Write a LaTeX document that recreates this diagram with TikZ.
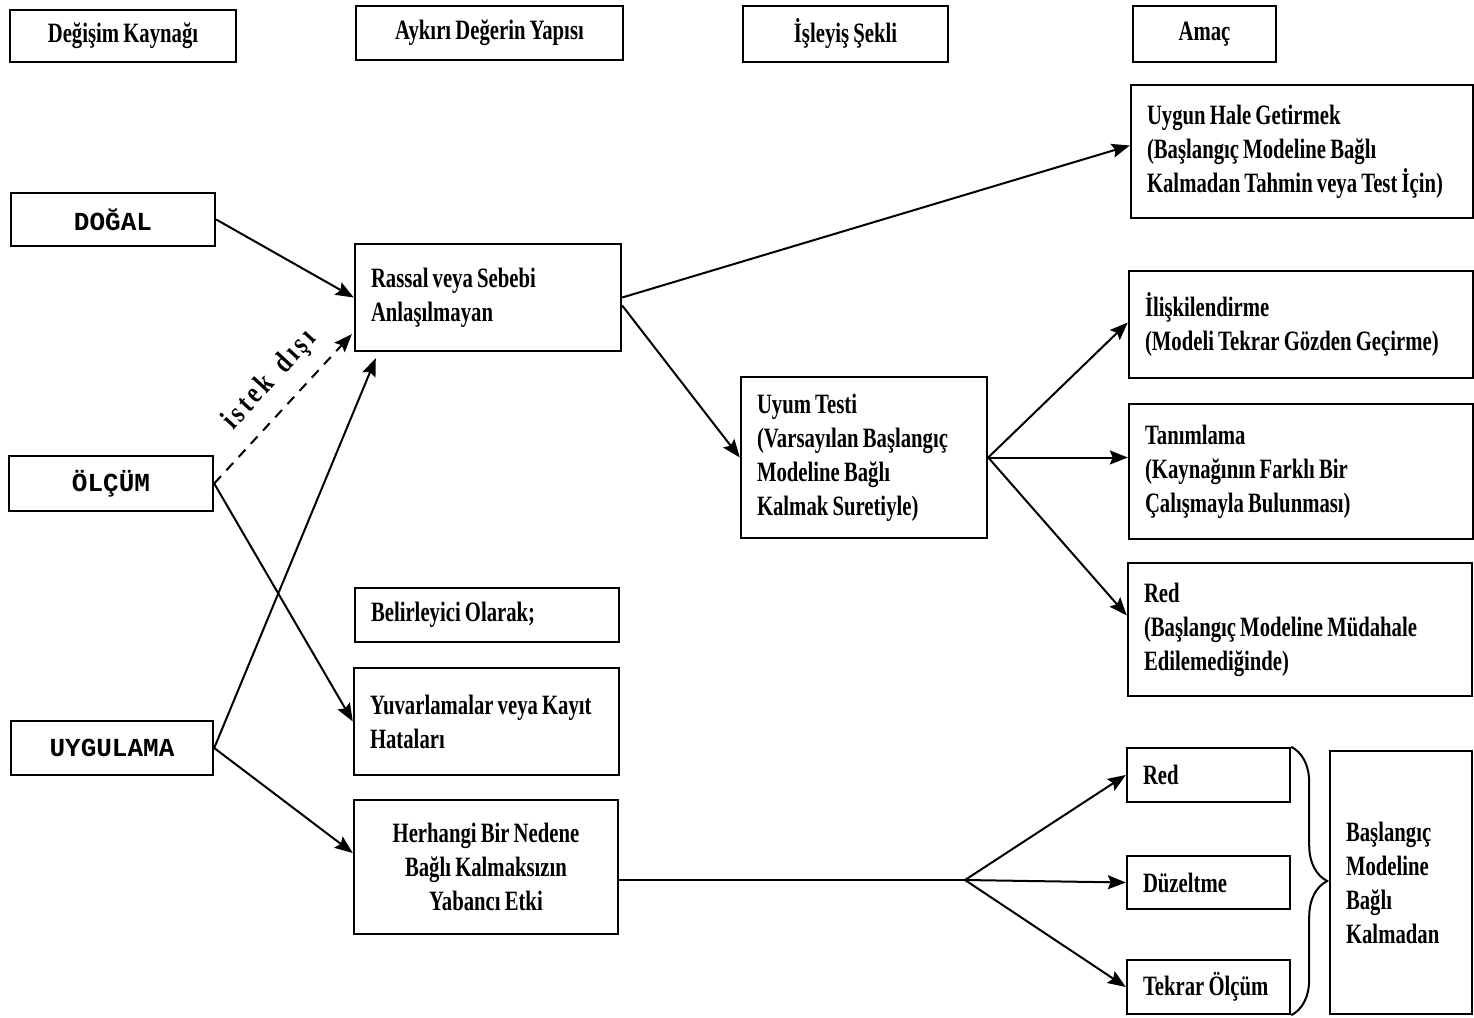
\documentclass[tikz,border=0pt]{standalone}
\usepackage{fontspec}
\setmainfont{Liberation Serif}[FakeStretch=0.74,WordSpace=0.8]
\newfontfamily\monof{Liberation Mono}
\newfontfamily\lblfont{Liberation Serif}[FakeStretch=0.8,LetterSpace=12,WordSpace=1.5]
\usetikzlibrary{arrows.meta,decorations.pathreplacing}
\begin{document}
\begin{tikzpicture}[x=0.5pt,y=-0.5pt,
  box/.style={draw, line width=1.2pt, inner xsep=8pt, inner ysep=2pt,
    font=\bfseries\fontsize{14}{17}\selectfont, align=flush left},
  head/.style={box, align=flush center},
  src/.style={draw, line width=1.2pt, font=\monof\bfseries\fontsize{13}{15}\selectfont},
  conn/.style={line width=1pt, -{Stealth[length=9pt,width=7pt,inset=1.5pt]}},
  lbl/.style={font=\lblfont\bfseries\fontsize{15}{17}\selectfont}]
\useasboundingbox (0,0) rectangle (1474,1018);

% headers
\node[head, minimum width=113pt, minimum height=26pt] (h1) at (123,36) {Değişim Kaynağı};
\node[head, minimum width=133.5pt, minimum height=27pt] (h2) at (489.5,33) {Aykırı Değerin Yapısı};
\node[head, minimum width=102.5pt, minimum height=28pt] (h3) at (845.5,34) {İşleyiş Şekli};
\node[head, minimum width=71.5pt, minimum height=28pt] (h4) at (1204.5,34) {Amaç};

% sources
\node[src, minimum width=102pt, minimum height=26.5pt] (dogal) at (113,219.5) {DOĞAL};
\node[src, minimum width=102pt, minimum height=27.5pt] (olcum) at (111,483.5) {ÖLÇÜM};
\node[src, minimum width=101pt, minimum height=27pt] (uyg) at (112,748) {UYGULAMA};

% middle column
\node[box, text width=117pt, minimum height=53.5pt] (rassal) at (488,297.5) {Rassal veya Sebebi\\Anlaşılmayan};
\node[box, text width=116pt, minimum height=27pt] (belir) at (487,615) {Belirleyici Olarak;};
\node[box, text width=116.5pt, minimum height=53.5pt] (yuvar) at (486.5,721.5) {Yuvarlamalar veya Kayıt\\Hataları};
\node[box, text width=116pt, minimum height=67pt, align=flush center] (herh) at (486,867) {Herhangi Bir Nedene\\Bağlı Kalmaksızın\\Yabancı Etki};

% process
\node[box, text width=107pt, minimum height=80.5pt] (uyum) at (864,457.5) {Uyum Testi\\(Varsayılan Başlangıç\\Modeline Bağlı\\Kalmak Suretiyle)};

% right column
\node[box, text width=155pt, minimum height=66.5pt] (uygun) at (1302,151.5) {Uygun Hale Getirmek\\(Başlangıç Modeline Bağlı\\Kalmadan Tahmin veya Test İçin)};
\node[box, text width=156pt, minimum height=53.5pt] (ilis) at (1301,324.5) {İlişkilendirme\\(Modeli Tekrar Gözden Geçirme)};
\node[box, text width=156pt, minimum height=67.5pt] (tanim) at (1301,471.5) {Tanımlama\\(Kaynağının Farklı Bir\\Çalışmayla Bulunması)};
\node[box, text width=156pt, minimum height=66.5pt] (red1) at (1300,629.5) {Red\\(Başlangıç Modeline Müdahale\\Edilemediğinde)};

\node[box, text width=65.5pt, minimum height=27pt] (red2) at (1208.5,775) {Red};
\node[box, text width=65.5pt, minimum height=26.5pt] (duz) at (1208.5,882.5) {Düzeltme};
\node[box, text width=65.5pt, minimum height=27pt] (tekrar) at (1208.5,987) {Tekrar Ölçüm};
\node[box, text width=55pt, minimum height=131.5pt] (basl) at (1401,882.5) {Başlangıç\\Modeline\\Bağlı\\Kalmadan};

% connectors from sources
\draw[conn] (dogal.east) -- (rassal.west);
\draw[conn, dashed, dash pattern=on 5pt off 4pt] (olcum.east) -- ([xshift=-1pt,yshift=9pt]rassal.south west)
  node[lbl, pos=0.56, above=4pt, sloped] {istek dışı};
\draw[conn] (uyg.east) -- ([xshift=11pt,yshift=-3pt]rassal.south west);
\draw[conn] (olcum.east) -- (yuvar.west);
\draw[conn] (uyg.east) -- ([yshift=7pt]herh.west);

% from rassal
\draw[conn] (rassal.east) -- ([yshift=3pt]uygun.west);
\draw[conn] ([yshift=-4pt]rassal.east) -- (uyum.west);

% from uyum
\draw[conn] (uyum.east) -- ([yshift=1pt]ilis.west);
\draw[conn] (uyum.east) -- (uyum.east -| tanim.west);
\draw[conn] (uyum.east) -- ([yshift=7pt]red1.west);

% from herhangi
\coordinate (j) at (965,880);
\draw[line width=1pt] (j -| herh.east) -- (j);
\draw[conn] (j) -- (red2.west);
\draw[conn] (j) -- (duz.west);
\draw[conn] (j) -- (tekrar.west);

% brace
\draw[line width=1pt, decorate, decoration={brace, amplitude=18pt, aspect=0.5}]
  (red2.north east) -- (tekrar.south east);
\end{tikzpicture}
\end{document}
